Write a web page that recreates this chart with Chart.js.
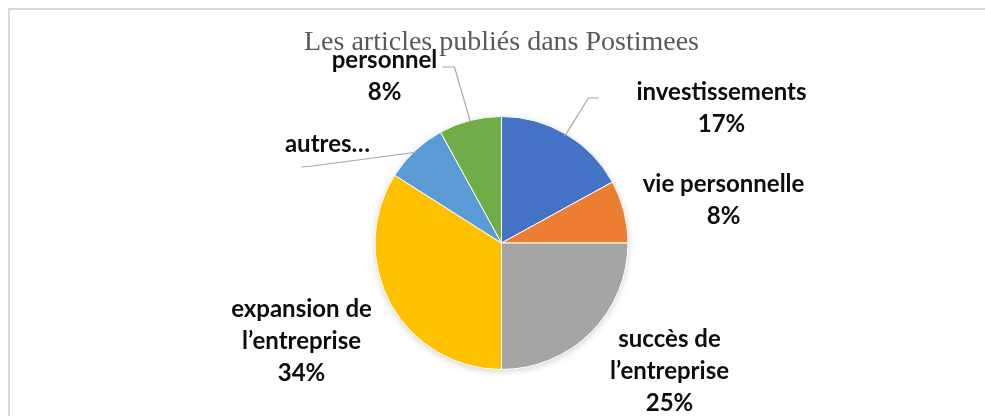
<!DOCTYPE html>
<html>
<head>
<meta charset="utf-8">
<script src="https://cdn.jsdelivr.net/npm/chart.js@4/dist/chart.umd.min.js"></script>
<style>
    body { margin: 0; background: #fff; overflow: hidden; }
    #wrap { position: relative; width: 985px; height: 416px; }
    #frame {
        position: absolute; left: 8px; top: 8px; width: 1200px; height: 600px;
        border-top: 2px solid #d9d9d9; border-left: 2px solid #d9d9d9;
    }
    canvas { position: absolute; left: 0; top: 0; }
</style>
</head>
<body>
<div id="wrap">
    <div id="frame"></div>
    <canvas id="pieChart" width="985" height="416"></canvas>
</div>
<script>
// Data
const categories = ['investissements', 'vie personnelle', 'succès de l’entreprise', 'expansion de l’entreprise', 'autres…', 'personnel'];
const shares = [17, 8, 25, 34, 8, 8];
const sliceColors = ['#4472C4', '#ED7D31', '#A5A5A5', '#FFC000', '#5B9BD5', '#70AD47'];

// How each label is broken into lines, and whether the % is shown
const labelLines = [['investissements'], ['vie personnelle'], ['succès de', 'l’entreprise'], ['expansion de', 'l’entreprise'], ['autres…'], ['personnel']];
const showPercent = [true, true, true, true, false, true];

// Label placement, relative to the pie centre (first baseline)
const labelOffsets = [[220, -143], [222, -51], [168, 104], [-200, 74], [-174, -91], [-117, -175]];
// Leader lines: elbow and end point relative to centre (null = no line)
const leaders = [
    [[87, -145], [97, -145]],
    null,
    null,
    null,
    [[-189, -77], [-200, -76]],
    [[-47, -176], [-59, -176]]
];

const labelFont = 'bold 24px Lato, "Open Sans", sans-serif';
const lineHeight = 32;

// Soft shadow under the pie, like the office chart
const pieShadow = {
    id: 'pieShadow',
    beforeDatasetsDraw(chart) {
        const arc = chart.getDatasetMeta(0).data[0];
        if (!arc) return;
        const ctx = chart.ctx;
        ctx.save();
        ctx.shadowColor = 'rgba(0,0,0,0.18)';
        ctx.shadowBlur = 7;
        ctx.shadowOffsetY = 2;
        ctx.fillStyle = '#fff';
        ctx.beginPath();
        ctx.arc(arc.x, arc.y, arc.outerRadius, 0, Math.PI * 2);
        ctx.fill();
        ctx.restore();
    }
};

// Draw data labels and leader lines
const sliceLabels = {
    id: 'sliceLabels',
    afterDatasetsDraw(chart) {
        const ctx = chart.ctx;
        const arcs = chart.getDatasetMeta(0).data;
        const total = shares.reduce((a, b) => a + b, 0);
        ctx.save();
        arcs.forEach((arc, i) => {
            const cx = arc.x, cy = arc.y;
            // leader line
            if (leaders[i]) {
                const mid = (arc.startAngle + arc.endAngle) / 2;
                const sx = cx + Math.cos(mid) * (arc.outerRadius - 2);
                const sy = cy + Math.sin(mid) * (arc.outerRadius - 2);
                ctx.strokeStyle = '#a6a6a6';
                ctx.lineWidth = 1.2;
                ctx.beginPath();
                ctx.moveTo(sx, sy);
                ctx.lineTo(cx + leaders[i][0][0], cy + leaders[i][0][1]);
                ctx.lineTo(cx + leaders[i][1][0], cy + leaders[i][1][1]);
                ctx.stroke();
            }
            // text
            const lines = labelLines[i].slice();
            if (showPercent[i]) lines.push(Math.round(shares[i] / total * 100) + '%');
            ctx.font = labelFont;
            ctx.fillStyle = '#0d0d0d';
            ctx.textAlign = 'center';
            ctx.textBaseline = 'alphabetic';
            lines.forEach((t, k) => {
                ctx.fillText(t, cx + labelOffsets[i][0], cy + labelOffsets[i][1] + k * lineHeight);
            });
        });
        ctx.restore();
    }
};

function initPieChart() {
    const ctx = document.getElementById('pieChart').getContext('2d');
    new Chart(ctx, {
        type: 'pie',
        data: {
            labels: categories,
            datasets: [{
                data: shares,
                backgroundColor: sliceColors,
                borderColor: '#ffffff',
                borderWidth: 1
            }]
        },
        options: {
            responsive: false,
            animation: false,
            layout: { padding: { top: 0, bottom: 46, left: 30, right: 12 } },
            plugins: {
                legend: { display: false },
                tooltip: { enabled: false },
                title: {
                    display: true,
                    text: 'Les articles publiés dans Postimees',
                    color: '#595959',
                    font: { family: '"Liberation Serif", "Times New Roman", serif', size: 28, weight: 'normal', lineHeight: 1.2 },
                    padding: { top: 26, bottom: 56.4 }
                }
            }
        },
        plugins: [pieShadow, sliceLabels]
    });
}

document.addEventListener('DOMContentLoaded', function() {
    initPieChart();
});
</script>
</body>
</html>
